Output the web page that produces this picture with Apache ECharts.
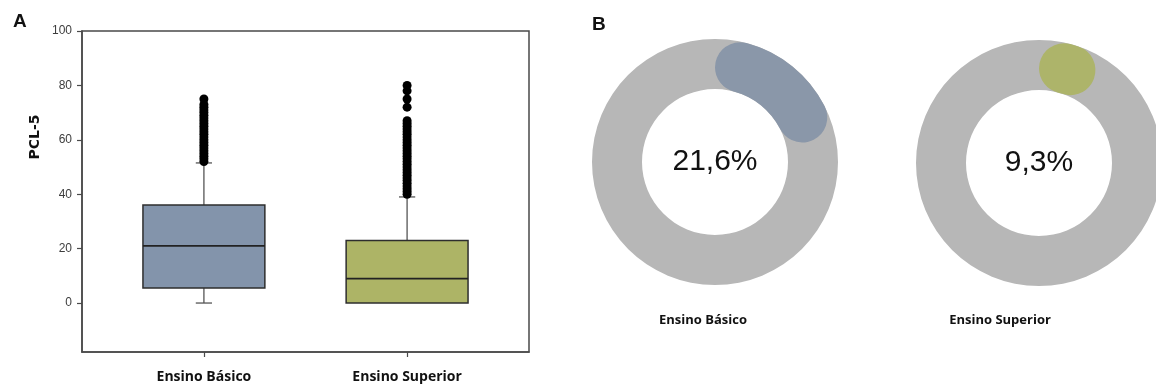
<!DOCTYPE html>
<html>
<head>
<meta charset="utf-8">
<title>PCL-5 por nível de ensino</title>
<script src="https://cdn.jsdelivr.net/npm/echarts@6/dist/echarts.min.js"></script>
<style>
  html, body { margin: 0; padding: 0; background: #ffffff; }
  #chart { width: 1156px; height: 387px; }
</style>
</head>
<body>
<div id="chart"></div>
<script>
// Groups shown in both panels
const categories = ['Ensino Básico', 'Ensino Superior'];

// Panel A: box summary per group (PCL-5 score)
const whiskerLow  = [0, 0];
const quartile1   = [5.5, 0];
const medians     = [21, 9];
const quartile3   = [36, 23];
const whiskerHigh = [51.5, 39];

// Panel A: individual scores beyond the whiskers
const outliersBasico = [52, 53, 54, 55, 56, 57, 58, 59, 60, 61, 62, 63, 64, 65, 66, 67, 68, 69, 70, 71, 72, 73, 75];
const outliersSuperior = [40, 41, 42, 43, 44, 45, 46, 47, 48, 49, 50, 51, 52, 53, 54, 55, 56, 57, 58, 59, 60,
  61, 62, 63, 64, 65, 66, 67, 72, 75, 78, 80];

// Panel A: y-axis tick labels
const yTicks = [0, 20, 40, 60, 80, 100];

// Panel B: share (%) per group
const percentages = [21.6, 9.3];

const boxColors = ['#8394ab', '#adb466'];
const arcColors = ['#8a97a9', '#adb46a'];
const ringGrey = '#b7b7b7';
const axisGrey = '#4a4a4a';

const BOX_WIDTH = 0.6;   // in x-axis units
const CAP_WIDTH = 0.08;  // in x-axis units

const boxData = categories.map((c, i) => [
  i + 1, whiskerLow[i], quartile1[i], medians[i], quartile3[i], whiskerHigh[i]
]);
const outlierData = []
  .concat(outliersBasico.map(v => [1, v]))
  .concat(outliersSuperior.map(v => [2, v]));

function fmtPct(v) {
  return v.toFixed(1).replace('.', ',') + '%';
}

const donutCenters = [[715, 162], [1039, 163]];
const donutLabelPos = [[703, 320], [1000, 320]];

const donutSeries = [];
percentages.forEach((p, i) => {
  donutSeries.push({
    type: 'pie',
    silent: true,
    center: donutCenters[i],
    radius: [73, 123],
    startAngle: 90,
    label: { show: false },
    labelLine: { show: false },
    emphasis: { disabled: true },
    itemStyle: { color: ringGrey, borderWidth: 0 },
    data: [{ value: 1, name: 'total' }],
    z: 1
  });
  donutSeries.push({
    type: 'pie',
    silent: true,
    center: donutCenters[i],
    radius: [73, 123],
    startAngle: 90,
    clockwise: true,
    avoidLabelOverlap: false,
    emphasis: { disabled: true },
    labelLine: { show: false },
    data: [
      {
        value: p,
        name: categories[i],
        itemStyle: { color: arcColors[i], borderRadius: 25, borderWidth: 0 },
        label: {
          show: true,
          position: 'center',
          formatter: () => fmtPct(p),
          fontFamily: 'Liberation Sans, Arial, sans-serif',
          fontSize: 30,
          color: '#111111'
        }
      },
      {
        value: 100 - p,
        name: 'resto',
        itemStyle: { color: 'rgba(0,0,0,0)', borderWidth: 0 },
        label: { show: false }
      }
    ],
    z: 2
  });
});

const chart = echarts.init(document.getElementById('chart'), null, { renderer: 'canvas' });

chart.setOption({
  animation: false,
  backgroundColor: '#ffffff',
  grid: {
    left: 82, top: 31, width: 447, bottom: 35,
    show: true, borderColor: axisGrey, borderWidth: 1.5, backgroundColor: 'transparent'
  },
  xAxis: {
    type: 'value',
    min: 0.4,
    max: 2.6,
    splitLine: { show: false },
    axisLine: { onZero: false, lineStyle: { color: axisGrey, width: 1.5 } },
    axisTick: { show: true, customValues: [1, 2], length: 5, lineStyle: { color: axisGrey, width: 1.2 } },
    axisLabel: {
      customValues: [1, 2],
      formatter: v => categories[Math.round(v) - 1] || '',
      margin: 18,
      fontFamily: 'Open Sans, sans-serif',
      fontWeight: 'bold',
      fontSize: 14,
      color: '#111111'
    }
  },
  yAxis: {
    type: 'value',
    min: -18,
    max: 100,
    splitLine: { show: false },
    axisLine: { show: true, lineStyle: { color: axisGrey, width: 1.5 } },
    axisTick: { show: true, customValues: yTicks, length: 5, lineStyle: { color: axisGrey, width: 1.2 } },
    axisLabel: {
      customValues: yTicks,
      margin: 10,
      fontFamily: 'Liberation Sans, Arial, sans-serif',
      fontSize: 12,
      color: '#3d3d3d'
    }
  },
  graphic: [
    {
      type: 'text', left: 13, top: 12,
      style: { text: 'A', font: 'bold 19px "Liberation Sans", Arial, sans-serif', fill: '#111' }
    },
    {
      type: 'text', left: 592, top: 15,
      style: { text: 'B', font: 'bold 19px "Liberation Sans", Arial, sans-serif', fill: '#111' }
    },
    {
      type: 'text', x: 35, y: 137, rotation: Math.PI / 2,
      style: {
        text: 'PCL-5', font: 'bold 14px "DejaVu Sans", sans-serif', fill: '#111',
        align: 'center', verticalAlign: 'middle'
      }
    },
    {
      type: 'text', x: donutLabelPos[0][0], y: donutLabelPos[0][1],
      style: {
        text: categories[0], font: 'bold 13px "Open Sans", sans-serif', fill: '#111',
        align: 'center', verticalAlign: 'middle'
      }
    },
    {
      type: 'text', x: donutLabelPos[1][0], y: donutLabelPos[1][1],
      style: {
        text: categories[1], font: 'bold 13px "Open Sans", sans-serif', fill: '#111',
        align: 'center', verticalAlign: 'middle'
      }
    }
  ],
  series: [
    {
      type: 'custom',
      name: 'PCL-5',
      silent: true,
      data: boxData,
      encode: { x: 0, y: [1, 2, 3, 4, 5] },
      renderItem: function (params, api) {
        const x = api.value(0);
        const pLow = api.coord([x, api.value(1)]);
        const pQ1 = api.coord([x, api.value(2)]);
        const pMed = api.coord([x, api.value(3)]);
        const pQ3 = api.coord([x, api.value(4)]);
        const pHigh = api.coord([x, api.value(5)]);
        const half = api.size([BOX_WIDTH, 0])[0] / 2;
        const capHalf = api.size([CAP_WIDTH, 0])[0] / 2;
        const cx = pQ1[0];
        const whisker = { stroke: '#555555', lineWidth: 1.3 };
        const children = [];
        if (pLow[1] - pQ1[1] > 0.5) {
          children.push({ type: 'line', shape: { x1: cx, y1: pQ1[1], x2: cx, y2: pLow[1] }, style: whisker });
          children.push({ type: 'line', shape: { x1: cx - capHalf, y1: pLow[1], x2: cx + capHalf, y2: pLow[1] }, style: whisker });
        }
        children.push({ type: 'line', shape: { x1: cx, y1: pQ3[1], x2: cx, y2: pHigh[1] }, style: whisker });
        children.push({ type: 'line', shape: { x1: cx - capHalf, y1: pHigh[1], x2: cx + capHalf, y2: pHigh[1] }, style: whisker });
        children.push({
          type: 'rect',
          shape: { x: cx - half, y: pQ3[1], width: half * 2, height: pQ1[1] - pQ3[1] },
          style: { fill: boxColors[params.dataIndex], stroke: '#2e2e2e', lineWidth: 1.5 }
        });
        children.push({
          type: 'line',
          shape: { x1: cx - half, y1: pMed[1], x2: cx + half, y2: pMed[1] },
          style: { stroke: '#222222', lineWidth: 1.8 }
        });
        return { type: 'group', children: children };
      },
      z: 2
    },
    {
      type: 'scatter',
      name: 'outliers',
      silent: true,
      data: outlierData,
      symbol: 'circle',
      symbolSize: 9,
      itemStyle: { color: '#000000', opacity: 1 },
      z: 3
    }
  ].concat(donutSeries)
});
</script>
</body>
</html>
